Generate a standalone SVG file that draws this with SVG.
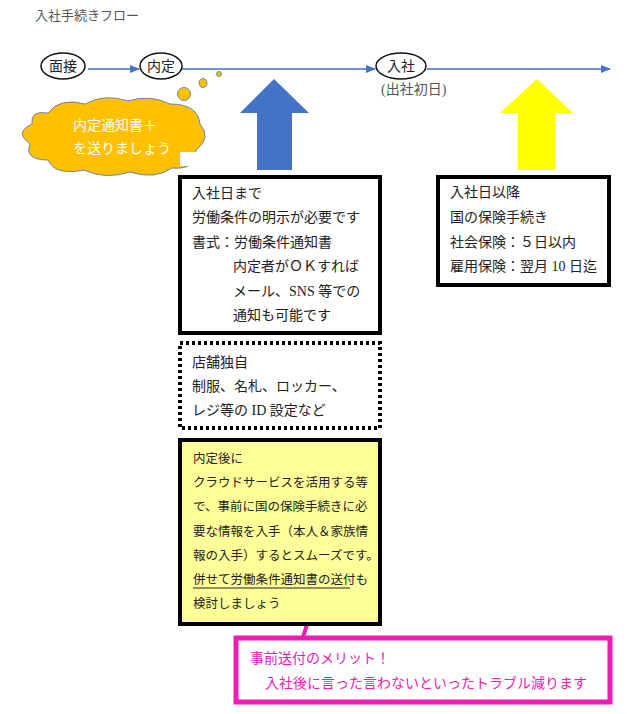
<svg xmlns="http://www.w3.org/2000/svg" width="638" height="714" viewBox="0 0 638 714">
<defs>
<marker id="ah" markerWidth="10" markerHeight="8" refX="9" refY="4" orient="auto" markerUnits="userSpaceOnUse"><path d="M0,0 L10,4 L0,8 z" fill="#4472C4"/></marker>
<style>
text{font-family:"Liberation Serif","Noto Sans CJK JP",serif;fill:#222;font-size:14px}
.sm{font-size:12.5px}
.el{fill:#fff;stroke:#111;stroke-width:1.5}
.ln{stroke:#4472C4;stroke-width:1.3;fill:none}
.bx{fill:#fff;stroke:#000;stroke-width:4}
</style>
</defs>
<rect width="638" height="714" fill="#fff"/>
<text x="35" y="20" style="fill:#555;font-size:13px">入社手続きフロー</text>
<g id="connectors">
<line class="ln" x1="88" y1="69" x2="139" y2="69" marker-end="url(#ah)"/>
<line class="ln" x1="182" y1="69" x2="375" y2="69" marker-end="url(#ah)"/>
<line class="ln" x1="427" y1="69" x2="610" y2="69" marker-end="url(#ah)"/>
<line x1="318" y1="591" x2="302" y2="640" stroke="#EE1BB5" stroke-width="4"/>
</g>
<g id="n-mensetsu"><ellipse class="el" cx="63" cy="66" rx="22" ry="13"/><text x="63" y="71" text-anchor="middle">面接</text></g>
<g id="n-naitei"><ellipse class="el" cx="161" cy="66" rx="21" ry="13"/><text x="161" y="71" text-anchor="middle">内定</text></g>
<g id="n-nyusha"><ellipse class="el" cx="401" cy="66" rx="25" ry="13"/><text x="401" y="71" text-anchor="middle">入社</text><text x="381" y="94" style="fill:#555">(出社初日)</text></g>
<g id="cloud">
<circle cx="219" cy="74" r="2.5" fill="#FFC000" stroke="#4472C4" stroke-width="0.8"/>
<ellipse cx="203" cy="83" rx="4" ry="4.5" fill="#FFC000" stroke="#4472C4" stroke-width="0.8"/>
<ellipse cx="184" cy="94" rx="6.5" ry="6.5" fill="#FFC000" stroke="#4472C4" stroke-width="0.8"/>
<path d="M48,113 Q60,97 85,104 Q105,93 128,101 Q150,94 170,104 Q198,104 200,124 Q212,138 196,150 Q198,170 172,168 Q155,180 130,172 Q105,180 84,170 Q55,176 48,160 Q24,160 30,144 Q14,132 32,124 Q30,110 48,113 z" fill="#FFC000" stroke="#4472C4" stroke-width="0.8"/>
<rect x="180" y="152" width="26" height="14" fill="#fff"/>
<text x="73" y="130" style="fill:#fff">内定通知書＋</text>
<text x="73" y="153" style="fill:#fff">を送りましょう</text>
</g>
<g id="blue-arrow"><path d="M274,79 L309,113 L292,113 L292,170 L257,170 L257,113 L240,113 z" fill="#4472C4"/></g>
<g id="yellow-arrow"><path d="M537,79 L573,113 L555,113 L555,170 L518,170 L518,113 L500,113 z" fill="#FFFF00"/></g>
<g id="box-before">
<rect class="bx" x="180" y="177" width="200" height="156"/>
<text x="192" y="198">入社日まで</text>
<text x="192" y="222">労働条件の明示が必要です</text>
<text x="192" y="247">書式：労働条件通知書</text>
<text x="233" y="271">内定者がＯＫすれば</text>
<text x="233" y="296">メール、SNS 等での</text>
<text x="233" y="320">通知も可能です</text>
</g>
<g id="box-after">
<rect class="bx" x="438" y="177" width="171" height="108"/>
<text x="450" y="197">入社日以降</text>
<text x="450" y="222">国の保険手続き</text>
<text x="450" y="247">社会保険：５日以内</text>
<text x="450" y="271">雇用保険：翌月 10 日迄</text>
</g>
<g id="box-store">
<rect x="180" y="343" width="200" height="85" fill="#fff" stroke="#000" stroke-width="4" stroke-dasharray="3,3"/>
<text x="192" y="367">店舗独自</text>
<text x="192" y="391">制服、名札、ロッカー、</text>
<text x="192" y="415">レジ等の ID 設定など</text>
</g>
<g id="box-naitei">
<rect x="180" y="440" width="200" height="184" fill="#FFFF99" stroke="#000" stroke-width="4"/>
<text class="sm" x="193" y="463">内定後に</text>
<text class="sm" x="193" y="487">クラウドサービスを活用する等</text>
<text class="sm" x="193" y="511">で、事前に国の保険手続きに必</text>
<text class="sm" x="193" y="536">要な情報を入手（本人＆家族情</text>
<text class="sm" x="193" y="560">報の入手）するとスムーズです。</text>
<text class="sm" x="193" y="584">併せて労働条件通知書の送付も</text>
<line x1="193" y1="588" x2="350" y2="588" stroke="#222" stroke-width="1"/>
<text class="sm" x="193" y="608">検討しましょう</text>
</g>
<g id="box-merit">
<rect x="236" y="638" width="374" height="64" fill="#fff" stroke="#EE1BB5" stroke-width="5"/>
<text x="250" y="663" style="fill:#EE1BB5">事前送付のメリット！</text>
<text x="265" y="688" style="fill:#EE1BB5">入社後に言った言わないといったトラブル減ります</text>
</g>
</svg>
